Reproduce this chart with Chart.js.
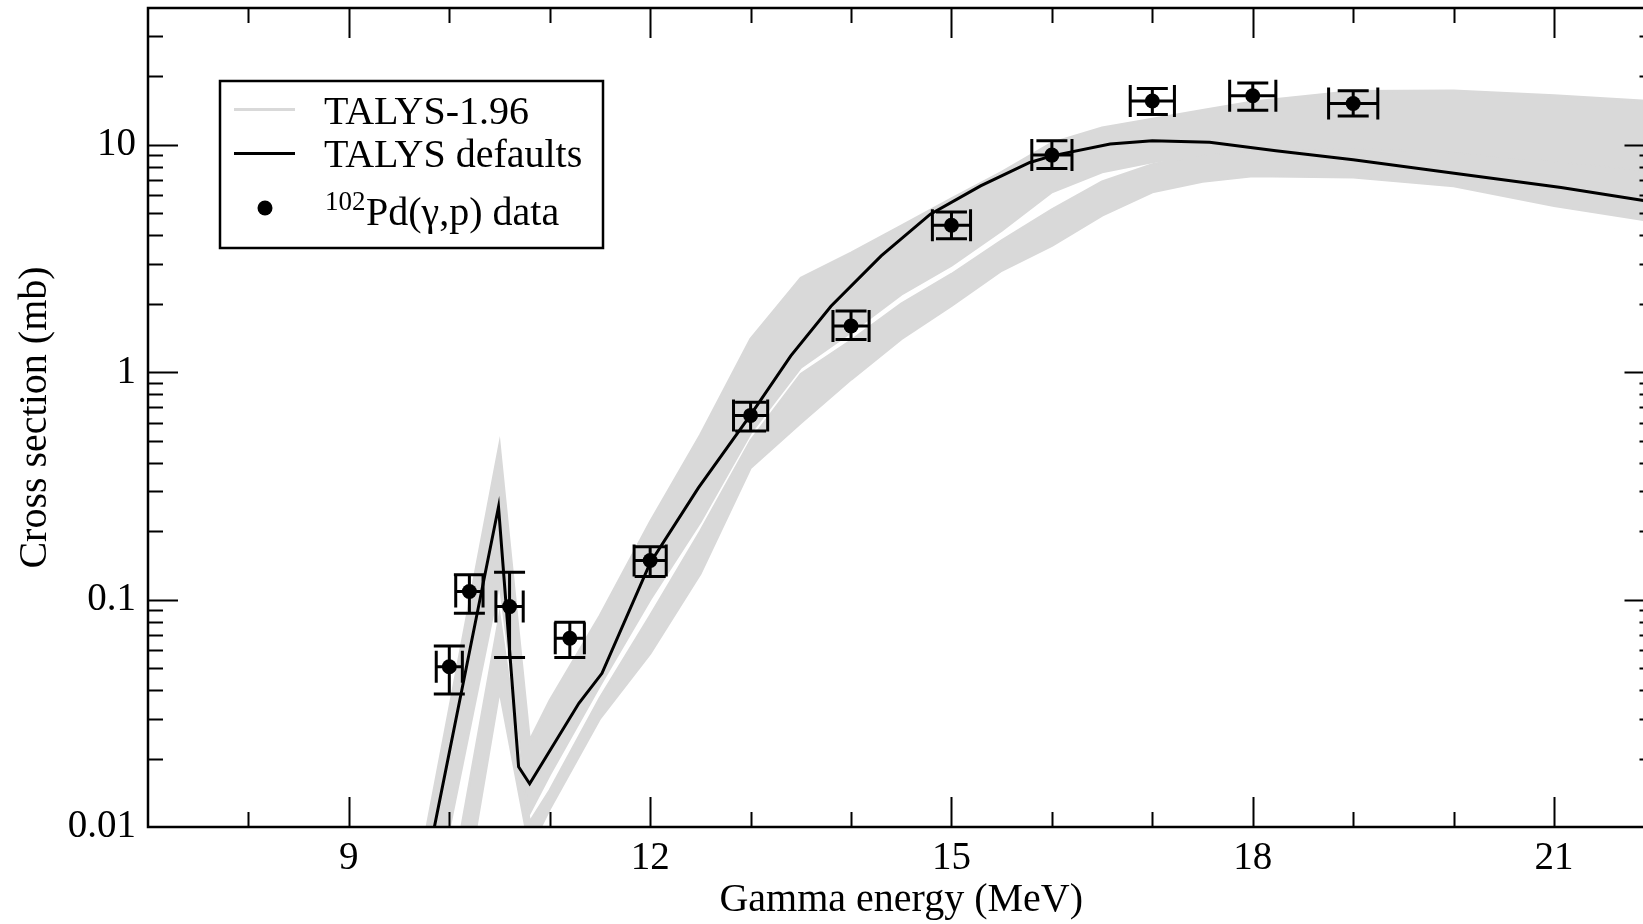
<!DOCTYPE html>
<html>
<head>
<meta charset="utf-8">
<title>102Pd(g,p) cross section</title>
<script src="https://cdn.jsdelivr.net/npm/chart.js@4.4.1/dist/chart.umd.min.js"></script>
<style>
  html, body { margin: 0; padding: 0; overflow: hidden; background: #fff; }
  #wrap { width: 1662px; height: 924px; }
</style>
</head>
<body>
<div id="wrap"><canvas id="xs" width="1662" height="924"></canvas></div>
<script>
// TALYS-1.96 spread: energies (MeV) and cross sections (mb)
const talysE  = [9.5, 10.0, 10.5, 10.8, 11.0, 11.5, 12.0, 12.5, 13.0, 13.5, 14.0, 14.5, 15.0, 15.5, 16.0, 16.5, 17.0, 17.5, 18.0, 19.0, 20.0, 21.0, 22.0];
// upper bundle (A1 = top edge ... A7 = bottom of the bundle)
const talysA1 = [0.0023, 0.033, 0.48, 0.024, 0.036, 0.085, 0.22, 0.53, 1.4, 2.6, 3.35, 4.4, 5.8, 7.6, 10.2, 11.9, 13.0, 14.2, 15.5, 17.2, 17.3, 16.5, 15.5];
const talysA2 = [0.0016, 0.027, 0.41, 0.021, 0.032, 0.077, 0.20, 0.46, 1.17, 2.3, 3.1, 4.1, 5.5, 7.2, 9.7, 11.4, 12.6, 13.6, 14.8, 16.2, 16.4, 15.6, 14.6];
const talysA3 = [0.0012, 0.022, 0.35, 0.019, 0.028, 0.068, 0.18, 0.40, 0.98, 1.85, 2.75, 3.8, 5.1, 6.8, 9.1, 10.8, 11.9, 12.8, 13.7, 15.1, 15.2, 14.5, 13.5];
const talysA4 = [0.0009, 0.018, 0.28, 0.017, 0.025, 0.060, 0.16, 0.35, 0.84, 1.6, 2.45, 3.4, 4.6, 6.3, 8.4, 10.0, 11.0, 11.8, 12.6, 13.7, 13.6, 12.8, 11.9];
const talysA5 = [0.0007, 0.015, 0.21, 0.015, 0.022, 0.053, 0.14, 0.31, 0.72, 1.38, 2.1, 2.9, 4.0, 5.6, 7.6, 9.2, 10.2, 10.9, 11.6, 12.4, 12.2, 11.4, 10.5];
const talysA6 = [0.0005, 0.012, 0.16, 0.013, 0.019, 0.047, 0.12, 0.26, 0.62, 1.2, 1.8, 2.5, 3.4, 4.9, 6.9, 8.4, 9.4, 10.1, 10.6, 11.2, 10.9, 10.0, 9.2];
const talysA7 = [0.0004, 0.0098, 0.12, 0.0115, 0.017, 0.042, 0.10, 0.22, 0.54, 1.05, 1.5, 2.2, 2.95, 4.2, 6.2, 7.6, 8.4, 9.1, 9.4, 9.7, 9.3, 8.5, 7.7];
// lower bundle
const talysB1 = [0.0003, 0.005, 0.085, 0.0105, 0.0145, 0.037, 0.085, 0.2, 0.5, 0.98, 1.38, 2.0, 2.7, 3.8, 5.2, 6.9, 8.2, 9.1, 9.6, 9.9, 9.5, 8.6, 7.8];
const talysB2 = [0.0002, 0.0035, 0.06, 0.009, 0.013, 0.033, 0.07, 0.165, 0.43, 0.76, 1.12, 1.65, 2.3, 3.3, 4.4, 5.9, 7.3, 8.1, 8.5, 8.6, 8.0, 7.0, 6.1];
const talysB3 = [0.0001, 0.002, 0.04, 0.008, 0.012, 0.030, 0.058, 0.13, 0.38, 0.6, 0.93, 1.4, 1.96, 2.8, 3.6, 4.9, 6.2, 6.9, 7.3, 7.2, 6.6, 5.4, 4.6];

// TALYS defaults
const defaultsE  = [9.8, 10.49, 10.69, 10.8, 11.29, 11.52, 12.0, 12.48, 13.0, 13.4, 13.8, 14.3, 14.79, 15.29, 15.78, 16.0, 16.58, 17.0, 17.57, 18.23, 19.0, 20.08, 21.07, 22.0];
const defaultsXS = [0.0077, 0.256, 0.0184, 0.0155, 0.035, 0.0474, 0.145, 0.31, 0.65, 1.18, 1.95, 3.25, 4.96, 6.6, 8.37, 8.95, 10.08, 10.43, 10.26, 9.42, 8.6, 7.43, 6.5, 5.6];

// 102Pd(g,p) data with errors
const dataE    = [10.0, 10.2, 10.6, 11.2, 12.0, 13.0, 14.0, 15.0, 16.0, 17.0, 18.0, 19.0];
const dataEerr = [0.13, 0.136, 0.136, 0.145, 0.16, 0.17, 0.18, 0.19, 0.2, 0.22, 0.23, 0.245];
const dataXS   = [0.0507, 0.1086, 0.0932, 0.0676, 0.1487, 0.646, 1.597, 4.43, 9.02, 15.6, 16.45, 15.2];
const dataLo   = [0.0385, 0.0871, 0.0556, 0.0556, 0.1265, 0.551, 1.395, 3.87, 7.87, 13.6, 14.2, 13.4];
const dataHi   = [0.0625, 0.1285, 0.132, 0.0796, 0.171, 0.738, 1.86, 5.07, 10.42, 17.7, 18.7, 17.3];

// axes
const xTickValues = [9, 12, 15, 18, 21];
const xMinorTicks = [8, 10, 11, 13, 14, 16, 17, 19, 20];
const yTickValues = [0.01, 0.1, 1, 10];
const yTickLabels = ['0.01', '0.1', '1', '10'];
const yMinorTicks = [0.02, 0.03, 0.04, 0.05, 0.06, 0.07, 0.08, 0.09,
                     0.2, 0.3, 0.4, 0.5, 0.6, 0.7, 0.8, 0.9,
                     2, 3, 4, 5, 6, 7, 8, 9, 20, 30];
const legendLabels = ['TALYS-1.96', 'TALYS defaults', 'Pd(\u03b3,p) data'];

const SERIF = "'Liberation Serif', 'Times New Roman', serif";
const GRAY = '#d9d9d9';

function pts(xs, ys) {
    return xs.map((x, i) => ({x: x, y: ys[i]}));
}

const grayA = [talysA1, talysA2, talysA3, talysA4, talysA5, talysA6, talysA7];
const grayB = [talysB1, talysB2, talysB3];

const datasets = [
    {
        label: legendLabels[2],
        data: pts(dataE, dataXS),
        showLine: false,
        pointRadius: 7.5,
        pointBackgroundColor: '#000',
        pointBorderWidth: 0,
        order: 0
    },
    {
        label: legendLabels[1],
        data: pts(defaultsE, defaultsXS),
        showLine: true,
        borderColor: '#000',
        borderWidth: 3,
        pointRadius: 0,
        order: 1
    }
];
// gray bundles: indexes 2..8 (A) and 9..11 (B)
grayA.forEach((arr, i) => {
    datasets.push({
        label: legendLabels[0],
        data: pts(talysE, arr),
        showLine: true,
        borderColor: GRAY,
        borderWidth: 2.5,
        pointRadius: 0,
        backgroundColor: GRAY,
        fill: i === 0 ? {target: 2 + grayA.length - 1} : false,
        order: 2
    });
});
grayB.forEach((arr, i) => {
    datasets.push({
        label: legendLabels[0],
        data: pts(talysE, arr),
        showLine: true,
        borderColor: GRAY,
        borderWidth: 2.5,
        pointRadius: 0,
        backgroundColor: GRAY,
        fill: i === 0 ? {target: 2 + grayA.length + grayB.length - 1} : false,
        order: 2
    });
});

// inward ticks on all four sides + frame
const frameTicks = {
    id: 'frameTicks',
    afterDraw(chart) {
        const {ctx, chartArea: a, scales: {x, y}} = chart;
        ctx.save();
        ctx.strokeStyle = '#000';
        ctx.lineWidth = 2;
        const xt = (vals, len) => vals.forEach(v => {
            const px = Math.round(x.getPixelForValue(v)) + 0.5;
            ctx.beginPath();
            ctx.moveTo(px, a.bottom); ctx.lineTo(px, a.bottom - len);
            ctx.moveTo(px, a.top); ctx.lineTo(px, a.top + len);
            ctx.stroke();
        });
        const yt = (vals, len) => vals.forEach(v => {
            const py = Math.round(y.getPixelForValue(v)) + 0.5;
            ctx.beginPath();
            ctx.moveTo(a.left, py); ctx.lineTo(a.left + len, py);
            ctx.moveTo(a.right, py); ctx.lineTo(a.right - len, py);
            ctx.stroke();
        });
        xt(xTickValues, 30);
        xt(xMinorTicks, 15);
        yt(yTickValues.slice(1), 30);
        yt(yMinorTicks, 15);
        ctx.lineWidth = 2.5;
        ctx.strokeRect(a.left, a.top, a.right - a.left, a.bottom - a.top);
        ctx.restore();
    }
};

// x and y error bars with caps
const errorBars = {
    id: 'errorBars',
    afterDatasetsDraw(chart) {
        const {ctx, scales: {x, y}} = chart;
        ctx.save();
        ctx.strokeStyle = '#000';
        ctx.lineWidth = 3;
        dataE.forEach((e, i) => {
            const px = x.getPixelForValue(e);
            const py = y.getPixelForValue(dataXS[i]);
            const yl = y.getPixelForValue(dataLo[i]);
            const yh = y.getPixelForValue(dataHi[i]);
            const xl = x.getPixelForValue(e - dataEerr[i]);
            const xh = x.getPixelForValue(e + dataEerr[i]);
            ctx.beginPath();
            ctx.moveTo(px, yh); ctx.lineTo(px, yl);
            ctx.moveTo(px - 15.5, yh); ctx.lineTo(px + 15.5, yh);
            ctx.moveTo(px - 15.5, yl); ctx.lineTo(px + 15.5, yl);
            ctx.moveTo(xl, py); ctx.lineTo(xh, py);
            ctx.moveTo(xl, py - 16); ctx.lineTo(xl, py + 16);
            ctx.moveTo(xh, py - 16); ctx.lineTo(xh, py + 16);
            ctx.stroke();
        });
        ctx.restore();
    }
};

// boxed legend inside the plot
const boxLegend = {
    id: 'boxLegend',
    afterDraw(chart) {
        const ctx = chart.ctx;
        ctx.save();
        ctx.fillStyle = '#fff';
        ctx.fillRect(220, 81, 383, 167);
        ctx.strokeStyle = '#000';
        ctx.lineWidth = 2.5;
        ctx.strokeRect(220, 81, 383, 167);

        ctx.lineWidth = 3;
        ctx.strokeStyle = GRAY;
        ctx.beginPath(); ctx.moveTo(234, 109.5); ctx.lineTo(295, 109.5); ctx.stroke();
        ctx.strokeStyle = '#000';
        ctx.beginPath(); ctx.moveTo(234, 153.5); ctx.lineTo(295, 153.5); ctx.stroke();
        ctx.fillStyle = '#000';
        ctx.beginPath(); ctx.arc(265, 208, 7.5, 0, Math.PI * 2); ctx.fill();

        ctx.textBaseline = 'alphabetic';
        ctx.textAlign = 'left';
        ctx.font = '40px ' + SERIF;
        ctx.fillText(legendLabels[0], 324, 124);
        ctx.fillText(legendLabels[1], 324, 167);
        ctx.fillText(legendLabels[2], 366, 225);
        ctx.font = '27px ' + SERIF;
        ctx.fillText('102', 325, 210);
        ctx.restore();
    }
};

Chart.defaults.font.family = SERIF;
Chart.defaults.color = '#000';

new Chart(document.getElementById('xs').getContext('2d'), {
    type: 'scatter',
    data: {datasets: datasets},
    options: {
        responsive: false,
        animation: false,
        layout: {padding: {top: 8, right: 3, left: 0, bottom: 0}},
        plugins: {
            legend: {display: false},
            tooltip: {enabled: false}
        },
        scales: {
            x: {
                type: 'linear',
                min: 7,
                max: 22,
                afterBuildTicks: s => { s.ticks = xTickValues.map(v => ({value: v})); },
                afterFit: s => { s.height = 97; s.paddingLeft = 0; s.paddingRight = 0; },
                grid: {display: false, drawTicks: false},
                border: {display: false},
                ticks: {
                    autoSkip: false,
                    maxRotation: 0,
                    padding: 8,
                    font: {family: SERIF, size: 39},
                    color: '#000',
                    callback: v => String(v)
                },
                title: {
                    display: true,
                    text: 'Gamma energy (MeV)',
                    font: {family: SERIF, size: 40},
                    color: '#000',
                    padding: {top: 0, bottom: 0}
                }
            },
            y: {
                type: 'logarithmic',
                min: 0.01,
                max: 40,
                afterBuildTicks: s => { s.ticks = yTickValues.map(v => ({value: v})); },
                afterFit: s => { s.width = 148; s.paddingTop = 0; s.paddingBottom = 0; },
                grid: {display: false, drawTicks: false},
                border: {display: false},
                ticks: {
                    autoSkip: false,
                    padding: 12,
                    font: {family: SERIF, size: 39},
                    color: '#000',
                    callback: v => yTickLabels[yTickValues.indexOf(v)]
                },
                title: {
                    display: true,
                    text: 'Cross section (mb)',
                    font: {family: SERIF, size: 40},
                    color: '#000',
                    padding: {top: 11, bottom: 0}
                }
            }
        }
    },
    plugins: [errorBars, frameTicks, boxLegend]
});
</script>
</body>
</html>
